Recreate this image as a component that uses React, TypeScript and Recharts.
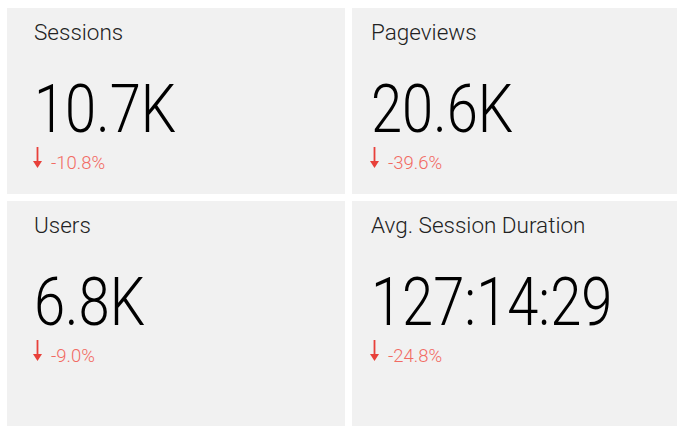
import React from "react";
import { Surface, Layer, Rectangle, Text } from "recharts";

const titles = ["Sessions", "Pageviews", "Users", "Avg. Session Duration"];
const values = ["10.7K", "20.6K", "6.8K", "127:14:29"];
const changes = ["-10.8%", "-39.6%", "-9.0%", "-24.8%"];

const W = 677;
const H = 426;
// card boxes: [x, y, w, h, text left]
const CARDS = [
  [7, 8, 338, 186, 34],
  [352, 8, 325, 186, 371],
  [7, 201, 338, 225, 34],
  [352, 201, 325, 225, 371],
];

const FONT = "Roboto, 'Noto Sans', sans-serif";

function Arrow({ x, y }: { x: number; y: number }) {
  // down arrow: thin stem + wide head
  return (
    <Layer>
      <Rectangle x={x + 3.6} y={y} width={1.8} height={15} fill="#e8403a" />
      <path d={`M${x} ${y + 14} L${x + 9} ${y + 14} L${x + 4.5} ${y + 21} Z`} fill="#e8403a" />
    </Layer>
  );
}

export default function App() {
  return (
    <div style={{ position: "fixed", left: 0, top: 0, width: W, height: H, background: "#fff" }}>
      <Surface width={W} height={H}>
        {CARDS.map(([x, y, w, h, tx], i) => (
          <Layer key={titles[i]}>
            <Rectangle x={x} y={y} width={w} height={h} fill="#f1f1f1" />
            <Text x={tx} y={y + 32} fontFamily={FONT} fontWeight={300} fontSize={22.5} fill="#222">
              {titles[i]}
            </Text>
            <g transform={`translate(${tx}, ${y + 124}) scale(0.85, 1)`}>
              <Text x={0} y={0} fontFamily={FONT} fontWeight={300} fontSize={66} fill="#000">
                {values[i]}
              </Text>
            </g>
            <Arrow x={tx - 1} y={y + 139} />
            <Text x={tx + 17} y={y + 161} fontFamily={FONT} fontWeight={300} fontSize={18.5} fill="#f26b63">
              {changes[i]}
            </Text>
          </Layer>
        ))}
      </Surface>
    </div>
  );
}
